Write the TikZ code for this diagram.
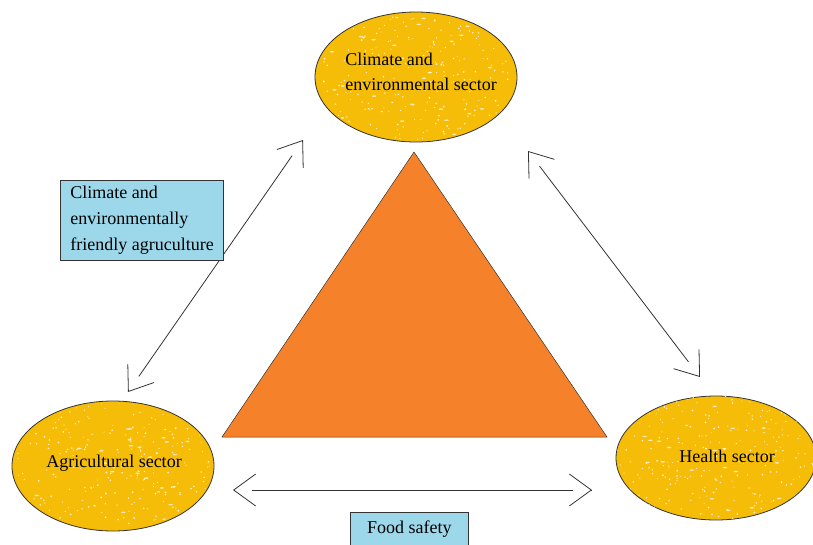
\documentclass[tikz,border=0pt]{standalone}
\usepackage{fontspec}
\setmainfont{Liberation Serif}
\usetikzlibrary{shapes.geometric,arrows.meta,calc}
\definecolor{gold}{HTML}{F5BC08}
\definecolor{triOrange}{HTML}{F5822A}
\definecolor{sky}{HTML}{9DD8EA}
\definecolor{ink}{HTML}{333333}
\tikzset{
  sector/.style={ellipse, draw=ink, line width=0.8pt, fill=gold,
    minimum width=202pt, minimum height=130pt, inner sep=0pt},
  sectorText/.style={text=black, font=\fontsize{18}{25}\selectfont, align=left},
  themeBox/.style={draw=ink, line width=0.8pt, fill=sky, text=black,
    font=\fontsize{18}{26}\selectfont, align=left},
  linkLine/.style={draw=ink, line width=0.8pt, shorten <=19pt, shorten >=19pt},
  linkTip/.style={draw=ink, line width=0.8pt, -{Straight Barb[length=22pt,width=32pt]}}
}
% white flecks inside a sector ellipse
\newcommand{\speckle}[1]{%
  \begin{scope}
    \clip (#1.center) ellipse [x radius=99pt, y radius=63pt];
    \foreach \k in {1,...,280}
      \fill[white, opacity=0.85] ($(#1.center)+(rand*100,rand*66)$) circle ({0.5pt+0.45pt*rnd});
    \foreach \k in {1,...,25}
      \fill[white, opacity=0.7] ($(#1.center)+(rand*90,rand*60)$) ellipse [x radius=2.2pt, y radius=0.8pt];
  \end{scope}}
% two-headed link with open heads set off from the line
\newcommand{\biarrow}[2]{%
  \draw[linkLine] (#1) -- (#2);
  \draw[linkTip] ($(#1)!1pt!(#2)$) -- (#1);
  \draw[linkTip] ($(#2)!1pt!(#1)$) -- (#2);}

\begin{document}
\begin{tikzpicture}[x=1pt, y=-1pt]
  \useasboundingbox (0,0) rectangle (813,544);
  \clip (0,0) rectangle (813,544);
  \pgfmathsetseed{11}

  % centre triangle
  \coordinate (apex) at (414,152);
  \coordinate (baseR) at (607,437);
  \coordinate (baseL) at (222,437);
  \filldraw[fill=triOrange, draw=ink, line width=0.5pt] (apex) -- (baseR) -- (baseL) -- cycle;

  % the three sectors
  \node[sector] (climate) at (416,77) {};
  \speckle{climate}
  \node[sectorText] (climateTxt) at (421,72) {Climate and\\environmental sector};

  \node[sector] (agri) at (113,466) {};
  \speckle{agri}
  \node[sectorText] (agriTxt) at (114,463) {Agricultural sector};

  \node[sector, minimum width=200pt, minimum height=124pt] (health) at (716,458) {};
  \speckle{health}
  \node[sectorText] (healthTxt) at (727,456) {Health sector};

  % arrows between the sectors
  \coordinate (a1) at (128,392);
  \coordinate (a2) at (303,140);
  \coordinate (b1) at (528,151);
  \coordinate (b2) at (700,377);
  \coordinate (c1) at (233,490);
  \coordinate (c2) at (592,490);
  \biarrow{a1}{a2}
  \biarrow{b1}{b2}
  \biarrow{c1}{c2}

  % labels on the links
  \node[themeBox, anchor=north west, minimum width=162pt, minimum height=80pt,
    inner xsep=10pt, inner ysep=4pt] (greenAgri) at (60,180)
    {Climate and\\environmentally\\friendly agruculture};
  \node[themeBox, anchor=north west, minimum width=118pt, minimum height=44pt,
    inner ysep=8pt, align=center] (foodSafety) at (350,512) {Food safety\\[6pt]};
\end{tikzpicture}
\end{document}
